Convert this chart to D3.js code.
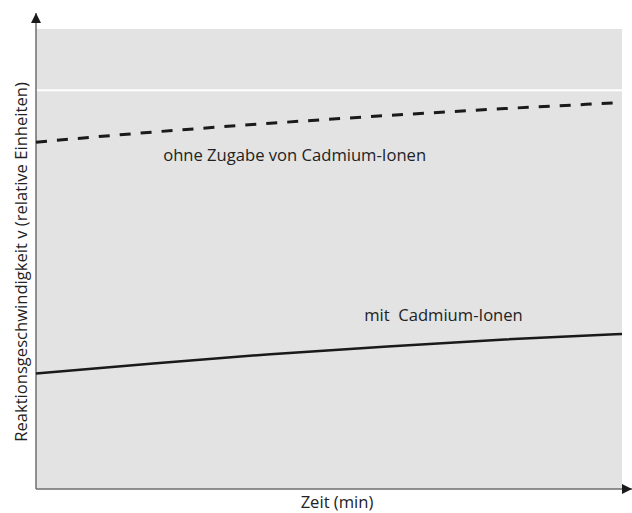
<!DOCTYPE html>
<html>
<head>
<meta charset="utf-8">
<script src="https://cdn.jsdelivr.net/npm/d3@7"></script>
<style>
  html, body { margin: 0; padding: 0; background: #fff; }
  svg { display: block; font-family: "Open Sans", sans-serif; }
</style>
</head>
<body>
<svg id="chart" width="632" height="513"></svg>
<script>
// Reaktionsgeschwindigkeit with / without cadmium ions (relative units)
const timePoints = [0, 2, 4, 6, 8, 10];
const ohneCadmium = [75.4, 77.6, 79.5, 81.2, 82.7, 84.0];
const mitCadmium = [25.1, 27.3, 29.3, 31.0, 32.5, 33.7];
const gridValues = [86.7];
const seriesLabels = [
    { text: 'ohne Zugabe von Cadmium-Ionen', x: 2.17, y: 71.3 },
    { text: 'mit\u00a0\u00a0Cadmium-Ionen', x: 5.6, y: 36.6 }
];
const xTitle = 'Zeit (min)';
const yTitle = 'Reaktionsgeschwindigkeit v (relative Einheiten)';

(function() {
    const svg = d3.select('#chart');
    const width = 632;
    const height = 513;
    const margin = { top: 29, right: 10, bottom: 24, left: 36 };
    const plotWidth = width - margin.left - margin.right;
    const plotHeight = height - margin.top - margin.bottom;
    const fontSize = '16.6px';

    const g = svg.append('g')
        .attr('transform', `translate(${margin.left}, ${margin.top})`);

    const xScale = d3.scaleLinear()
        .domain([0, 10])
        .range([0, plotWidth]);

    const yScale = d3.scaleLinear()
        .domain([0, 100])
        .range([plotHeight, 0]);

    // Plot background
    g.append('rect')
        .attr('x', 0)
        .attr('y', 0)
        .attr('width', plotWidth)
        .attr('height', plotHeight)
        .attr('fill', '#e3e3e3');

    // White grid line
    g.selectAll('.grid')
        .data(gridValues)
        .join('line')
        .attr('class', 'grid')
        .attr('x1', 0)
        .attr('x2', plotWidth)
        .attr('y1', d => yScale(d))
        .attr('y2', d => yScale(d))
        .attr('stroke', '#ffffff')
        .attr('stroke-width', 2);

    // Axes (no ticks), drawn as arrows
    const defs = svg.append('defs');
    defs.append('marker')
        .attr('id', 'arrow')
        .attr('viewBox', '0 0 10 10')
        .attr('refX', 10)
        .attr('refY', 5)
        .attr('markerWidth', 10)
        .attr('markerHeight', 10)
        .attr('markerUnits', 'userSpaceOnUse')
        .attr('orient', 'auto')
        .append('path')
        .attr('d', 'M0,0 L10,5 L0,10 Z')
        .attr('fill', '#1a1a1a');

    const xAxis = d3.axisBottom(xScale).ticks(0).tickSize(0).tickFormat('');
    const yAxis = d3.axisLeft(yScale).ticks(0).tickSize(0).tickFormat('');

    g.append('g')
        .attr('class', 'x-axis')
        .attr('transform', `translate(0, ${plotHeight})`)
        .call(xAxis)
        .call(a => a.select('.domain').remove());

    g.append('g')
        .attr('class', 'y-axis')
        .call(yAxis)
        .call(a => a.select('.domain').remove());

    g.append('line')
        .attr('x1', 0)
        .attr('y1', plotHeight)
        .attr('x2', plotWidth + 10)
        .attr('y2', plotHeight)
        .attr('stroke', '#6e6e6e')
        .attr('stroke-width', 1.5)
        .attr('marker-end', 'url(#arrow)');

    g.append('line')
        .attr('x1', 0)
        .attr('y1', plotHeight)
        .attr('x2', 0)
        .attr('y2', -16)
        .attr('stroke', '#6e6e6e')
        .attr('stroke-width', 1.5)
        .attr('marker-end', 'url(#arrow)');

    // Lines
    const line = d3.line()
        .x((d, i) => xScale(timePoints[i]))
        .y(d => yScale(d))
        .curve(d3.curveMonotoneX);

    g.append('path')
        .datum(ohneCadmium)
        .attr('fill', 'none')
        .attr('stroke', '#1a1a1a')
        .attr('stroke-width', 3)
        .attr('stroke-dasharray', '11,10')
        .attr('d', line);

    g.append('path')
        .datum(mitCadmium)
        .attr('fill', 'none')
        .attr('stroke', '#1a1a1a')
        .attr('stroke-width', 2.5)
        .attr('d', line);

    // Series labels
    g.selectAll('.series-label')
        .data(seriesLabels)
        .join('text')
        .attr('class', 'series-label')
        .attr('x', d => xScale(d.x))
        .attr('y', d => yScale(d.y))
        .attr('font-size', fontSize)
        .attr('fill', '#222')
        .text(d => d.text);

    // Axis titles
    svg.append('text')
        .attr('x', 337)
        .attr('y', 508)
        .attr('text-anchor', 'middle')
        .attr('font-size', fontSize)
        .attr('fill', '#222')
        .text(xTitle);

    svg.append('text')
        .attr('transform', 'rotate(-90)')
        .attr('x', -262)
        .attr('y', 27)
        .attr('text-anchor', 'middle')
        .attr('font-size', fontSize)
        .attr('fill', '#222')
        .text(yTitle);
})();
</script>
</body>
</html>
